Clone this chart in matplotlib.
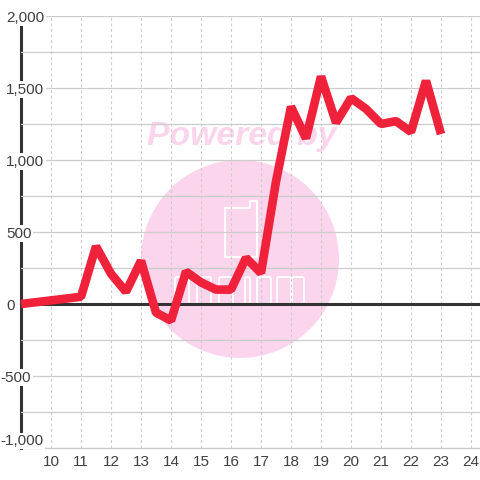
import matplotlib
matplotlib.use("Agg")
from matplotlib import pyplot as plt
from matplotlib.patches import Circle, Polygon, FancyBboxPatch
from matplotlib.transforms import IdentityTransform

months = [9, 11, 11.5, 12, 12.5, 13, 13.5, 14, 14.5, 15, 15.5, 16, 16.5, 17,
          17.5, 18, 18.5, 19, 19.5, 20, 20.5, 21, 21.5, 22, 22.5, 23]
values = [0, 50, 400, 210, 85, 300, -60, -115, 225, 150, 100, 100, 320, 215,
          850, 1370, 1150, 1580, 1260, 1430, 1355, 1250, 1270, 1195, 1550, 1180]
x_ticks = list(range(10, 25))
y_ticks = [-1000, -500, 0, 500, 1000, 1500, 2000]
y_labels = ["-1,000", "-500", "0", "500", "1,000", "1,500", "2,000"]
y_minor = [-750, -250, 250, 750, 1250, 1750]

plt.rcParams["font.family"] = ["Liberation Sans", "DejaVu Sans"]

fig = plt.figure(figsize=(4.8, 4.8), dpi=100)
ax = fig.add_axes([21 / 480, 1 - 448 / 480, 459 / 480, 432 / 480])
ax.set_xlim(9, 24.3)
ax.set_ylim(-1000, 2000)

# watermark, placed in pixels
pink = "#fbd5ec"
px = IdentityTransform()
ax.add_patch(Circle((240, 221), 99, color=pink, lw=0, transform=px, zorder=0))
ax.text(242, 344, "Powered by", transform=px, color=pink, fontsize=24.3,
        fontweight="bold", fontstyle="italic", ha="center", va="center", zorder=0.5)
phone = [(225, 223), (225, 272), (250, 272), (250, 279), (257, 279), (257, 223)]
ax.add_patch(Polygon(phone, closed=True, fc="none", ec="white", lw=1.5, joinstyle="round",
                     transform=px, zorder=1))
for left, w in [(175, 14), (197, 14), (219, 14), (245, 5), (257, 14), (277, 14), (292, 12)]:
    ax.add_patch(FancyBboxPatch((left, 176), w, 27, boxstyle="round,pad=0,rounding_size=2",
                                fc="none", ec="white", lw=1.3, transform=px, zorder=1))

for s in ["top", "right"]:
    ax.spines[s].set_visible(False)
ax.spines["left"].set_color("#333333")
ax.spines["left"].set_linewidth(2.2)
ax.spines["left"].set_zorder(2)
ax.spines["bottom"].set_color("#cccccc")
ax.spines["bottom"].set_linewidth(0.9)
ax.spines["bottom"].set_zorder(2)

ax.set_xticks(x_ticks)
ax.set_yticks(y_ticks, y_labels)
ax.set_yticks(y_minor, minor=True)
ax.grid(True, axis="y", which="both", color="#cccccc", lw=0.9)
ax.grid(True, axis="x", color="#cccccc", lw=0.8, ls=(0, (2.5, 2.5)))
ax.tick_params(axis="both", which="both", length=0, labelsize=11, labelcolor="#404040")
ax.tick_params(axis="x", pad=5)
ax.yaxis.set_zorder(2.2)
ax.xaxis.set_zorder(2.1)

for tick, label, val in zip(ax.yaxis.get_major_ticks(), ax.get_yticklabels(), y_ticks):
    tick.set_pad(14.5 if val < 0 else 10.7)
    label.set_ha("left")
    label.set_bbox(dict(fc="white", ec="none", pad=1))
    if val == -1000:
        label.set_va("bottom")

ax.axhline(0, color="#333333", lw=2.2, zorder=3)
ax.plot(months, values, color="#f0213b", lw=6.2, solid_joinstyle="bevel",
        solid_capstyle="butt", clip_on=False, zorder=4)

fig.savefig("out.png", dpi=100)
